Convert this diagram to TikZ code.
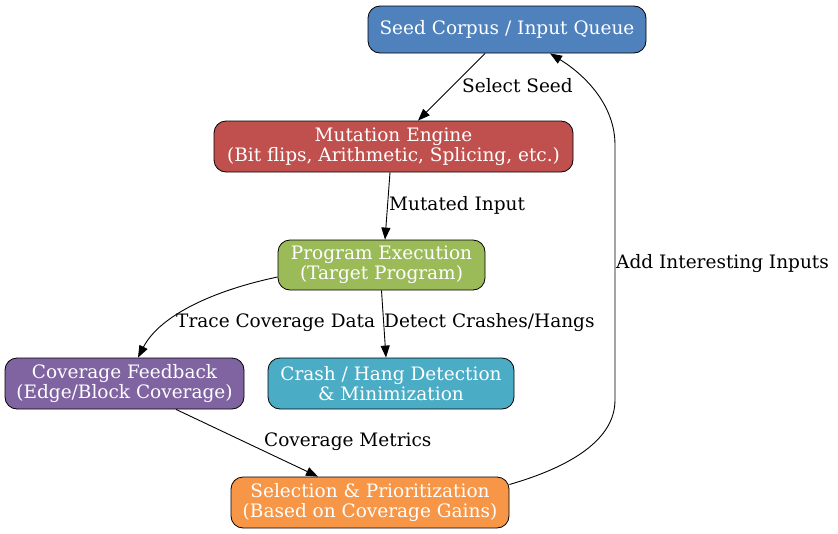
\documentclass[tikz,border=0pt]{standalone}
\usepackage{fontspec}
\setmainfont{DejaVu Serif}
\usetikzlibrary{calc,arrows.meta}
\definecolor{cseed}{HTML}{4F81BD}
\definecolor{cmut}{HTML}{C0504D}
\definecolor{cprog}{HTML}{9BBB59}
\definecolor{ccov}{HTML}{8064A2}
\definecolor{ccrash}{HTML}{4BACC6}
\definecolor{csel}{HTML}{F79646}
\tikzset{
  box/.style={draw=black, line width=0.8pt, rounded corners=12pt, text=white, align=center,
    inner sep=0pt, font=\fontsize{18.5}{20}\selectfont},
  conn/.style={draw=black, line width=0.9pt, -{Triangle[length=12pt,width=9pt]}},
  elabel/.style={anchor=west, inner sep=0pt, font=\fontsize{18.5}{20}\selectfont}
}
\begin{document}
\begin{tikzpicture}[x=1pt,y=-1pt]
\useasboundingbox (0,0) rectangle (838,533);
\node[box, fill=cseed, minimum width=278pt, minimum height=47pt] (seed) at (507,29.5) {Seed Corpus / Input Queue};
\node[box, fill=cmut, minimum width=359pt, minimum height=51pt] (mut) at (393.5,146.5) {Mutation Engine\\(Bit flips, Arithmetic, Splicing, etc.)};
\node[box, fill=cprog, minimum width=207pt, minimum height=50pt] (prog) at (381.5,265) {Program Execution\\(Target Program)};
\node[box, fill=ccov, minimum width=239pt, minimum height=51pt] (cov) at (124.5,383.5) {Coverage Feedback\\(Edge/Block Coverage)};
\node[box, fill=ccrash, minimum width=246pt, minimum height=51pt] (crash) at (391,383.5) {Crash / Hang Detection\\\& Minimization};
\node[box, fill=csel, minimum width=278pt, minimum height=51pt] (sel) at (370,502.5) {Selection \& Prioritization\\(Based on Coverage Gains)};

\draw[conn] ($(seed.south)+(-22,0)$) -- ($(mut.north)+(24.5,0)$);
\node[elabel] (l1) at (462,86) {Select Seed};

\draw[conn] ($(mut.south)+(-3.5,0)$) -- ($(prog.north)+(3.5,0)$);
\node[elabel] (l2) at (389,205) {Mutated Input};

\draw[conn] ($(prog.west)+(0,12)$) .. controls (215,290) and (160,315) .. ($(cov.north)+(13.5,0)$);
\node[elabel] (l3) at (176,323) {Trace Coverage Data};

\draw[conn] (prog.south) -- ($(crash.north)+(-5,0)$);
\node[elabel] (l4) at (384,323) {Detect Crashes/Hangs};

\draw[conn] ($(cov.south)+(51.5,0)$) -- ($(sel.north)+(-52,0)$);
\node[elabel] (l5) at (264,442) {Coverage Metrics};

\coordinate (r1) at (615,400);
\coordinate (r2) at (615,145);
\draw[conn] ($(sel.east)+(0,-18)$) .. controls (570,467) and (615,440) .. (r1) -- (r2) .. controls (615,105) and (585,75) .. ($(seed.south)+(43,0)$);
\node[elabel] (l6) at (616,264) {Add Interesting Inputs};
\end{tikzpicture}
\end{document}
